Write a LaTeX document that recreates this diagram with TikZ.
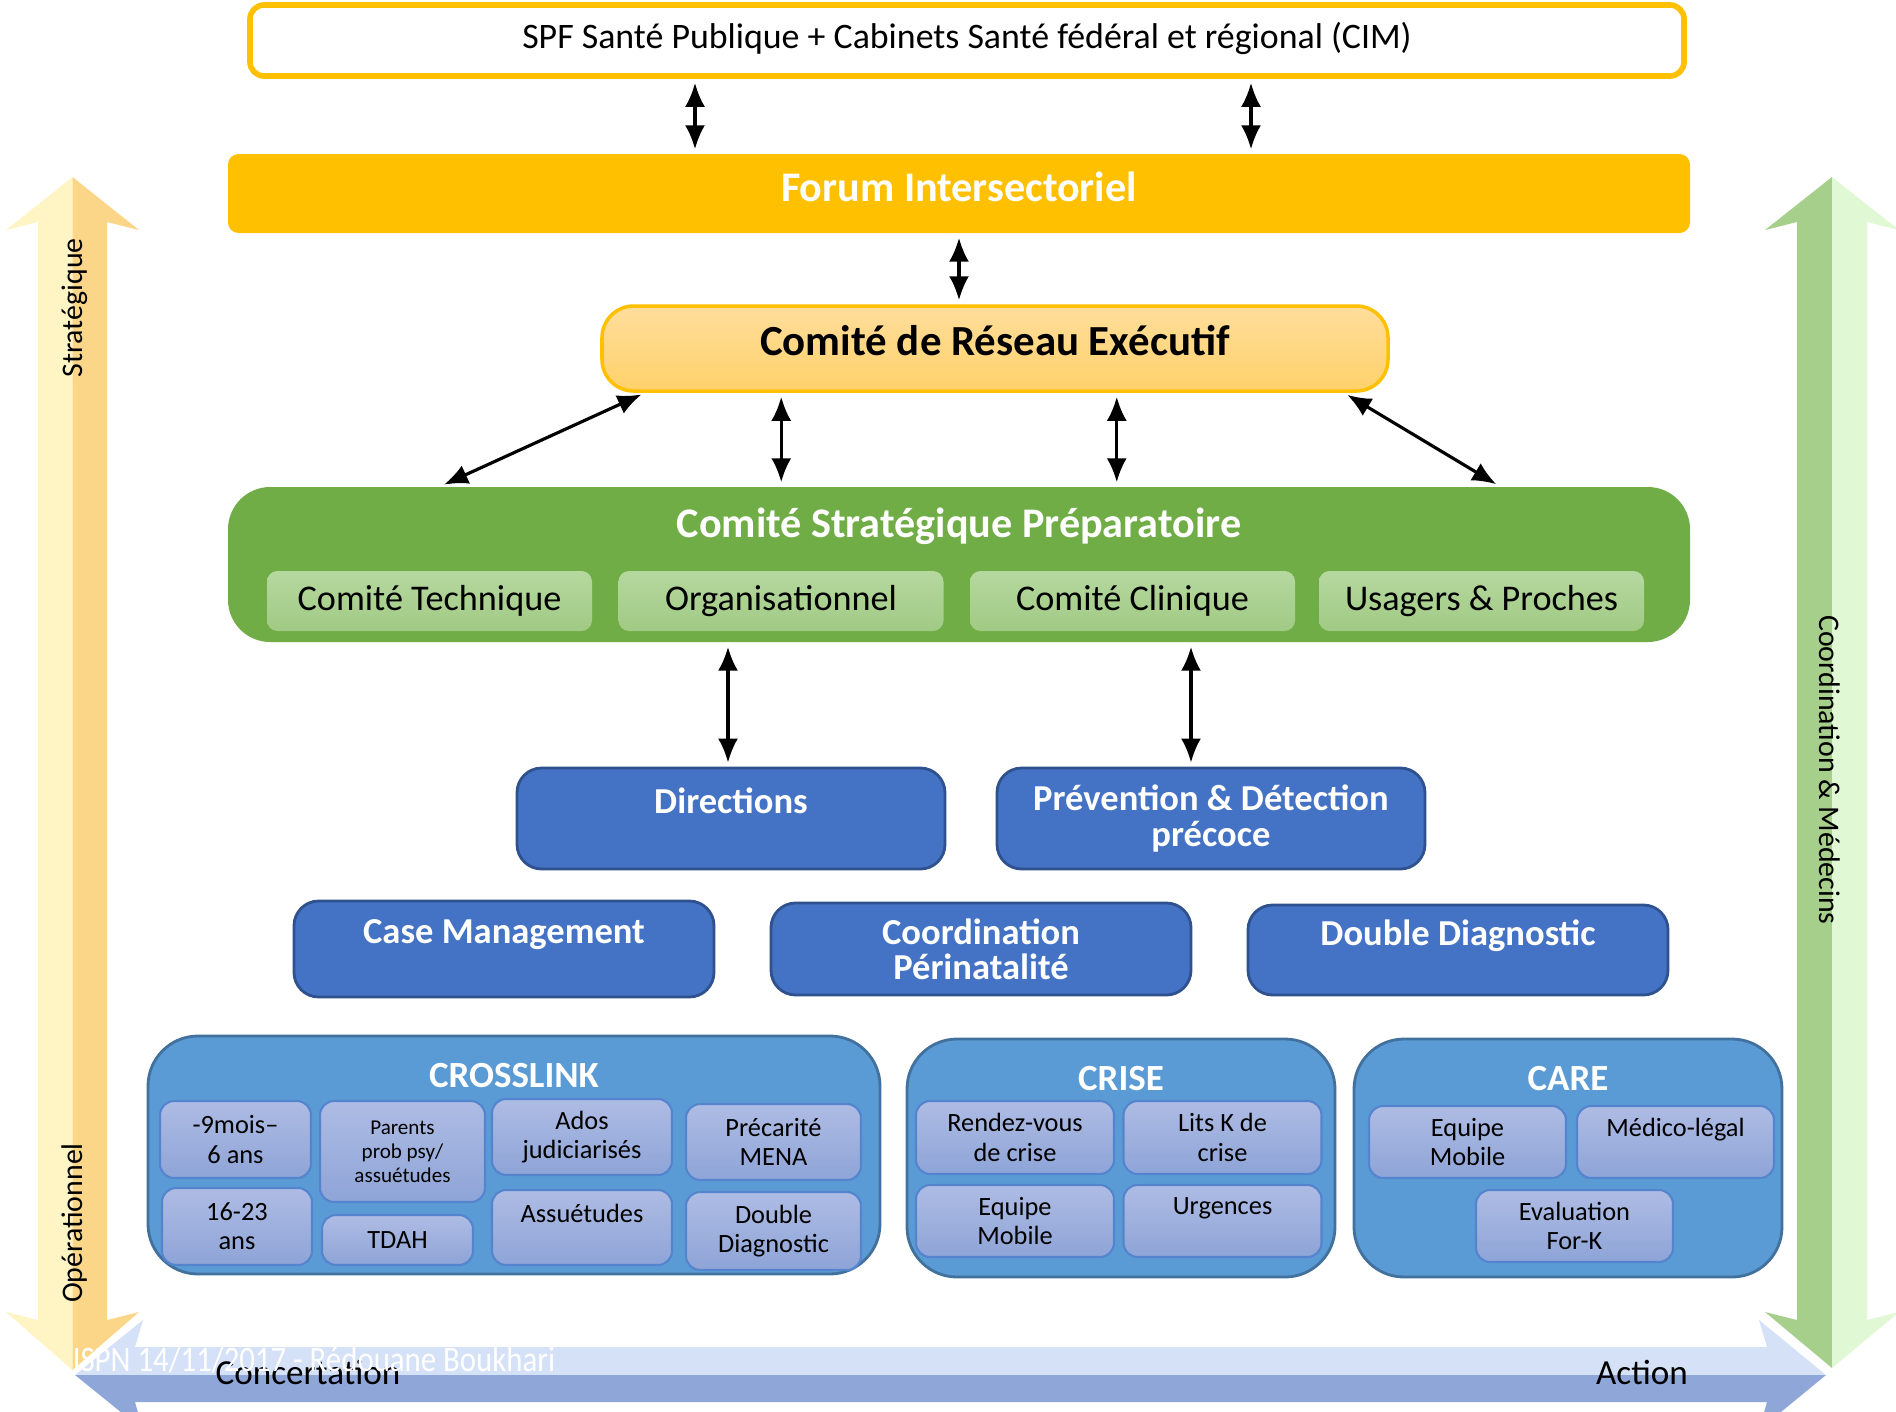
\documentclass[tikz,border=0pt]{standalone}
\usepackage{fontspec}
\setmainfont{Carlito}
\usetikzlibrary{arrows.meta}

\definecolor{gold}{HTML}{FFC000}
\definecolor{peachtop}{HTML}{FFDE9C}
\definecolor{peachbot}{HTML}{FFD16A}
\definecolor{cspgreen}{HTML}{70AD47}
\definecolor{subtop}{HTML}{B5D89F}
\definecolor{subbot}{HTML}{A1CA84}
\definecolor{blue1}{HTML}{4472C4}
\definecolor{blue2}{HTML}{2F528F}
\definecolor{grpblue}{HTML}{5B9BD5}
\definecolor{grpline}{HTML}{41719C}
\definecolor{itemtop}{HTML}{AEBCE4}
\definecolor{itembot}{HTML}{8EA4D7}
\definecolor{itemline}{HTML}{5584CF}
\definecolor{yelL}{HTML}{FFF4C4}
\definecolor{yelR}{HTML}{FCD688}
\definecolor{grnL}{HTML}{A7CF8C}
\definecolor{grnR}{HTML}{E0F9D4}
\definecolor{bluT}{HTML}{D5E1F7}
\definecolor{bluB}{HTML}{8FA6D8}

\tikzset{
  link/.style={{Latex[length=2.4mm,width=2mm]}-{Latex[length=2.4mm,width=2mm]}, line width=0.9pt, shorten <=0.4mm, shorten >=0.4mm},
  topbox/.style={draw=gold, line width=1.6pt, fill=white, rounded corners=4pt, font=\fontsize{10.2}{12}\selectfont},
  forumbox/.style={fill=gold, rounded corners=3pt, text=white, font=\bfseries\fontsize{12}{14}\selectfont},
  reseaubox/.style={top color=peachtop, bottom color=peachbot, draw=gold, line width=1pt, rounded corners=9pt, font=\bfseries\fontsize{12.2}{14}\selectfont},
  cspbox/.style={fill=cspgreen, rounded corners=12pt, text=white, font=\bfseries\fontsize{12}{14}\selectfont},
  subbox/.style={top color=subtop, bottom color=subbot, rounded corners=3pt, font=\fontsize{10.3}{12}\selectfont, minimum width=3.25cm, minimum height=0.6cm},
  bluebox/.style={fill=blue1, draw=blue2, line width=0.8pt, rounded corners=7pt, text=white, align=center, font=\bfseries\fontsize{10.4}{10}\selectfont},
  groupbox/.style={fill=grpblue, draw=grpline, line width=0.8pt, rounded corners=0.5cm, text=white, font=\bfseries\fontsize{10.5}{12}\selectfont, minimum height=2.38cm, text depth=1.6cm},
  itembox/.style={top color=itemtop, bottom color=itembot, draw=itemline, line width=0.6pt, rounded corners=4pt, align=center, font=\fontsize{7.5}{8.3}\selectfont},
  sidetext/.style={font=\fontsize{8.5}{10}\selectfont},
}

\begin{document}
\begin{tikzpicture}[x=1cm,y=-1cm]
\useasboundingbox (0,0) rectangle (18.96,14.11);
\fill[white] (0,0) rectangle (18.96,14.11);

% side arrows
\fill[yelL] (0.725,1.77) -- (0.06,2.30) -- (0.38,2.22) -- (0.38,13.20) -- (0.06,13.12) -- (0.725,13.70) -- cycle;
\fill[yelR] (0.725,1.77) -- (1.39,2.30) -- (1.07,2.22) -- (1.07,13.20) -- (1.39,13.12) -- (0.725,13.70) -- cycle;
\fill[grnL] (18.32,1.77) -- (17.65,2.30) -- (17.97,2.22) -- (17.97,13.20) -- (17.65,13.12) -- (18.32,13.68) -- cycle;
\fill[grnR] (18.32,1.77) -- (18.99,2.30) -- (18.67,2.22) -- (18.67,13.20) -- (18.99,13.12) -- (18.32,13.68) -- cycle;
\fill[bluT] (0.75,13.75) -- (1.43,13.20) -- (1.35,13.47) -- (17.67,13.47) -- (17.59,13.20) -- (18.26,13.75) -- cycle;
\fill[bluB] (0.75,13.75) -- (1.43,14.30) -- (1.35,14.02) -- (17.67,14.02) -- (17.59,14.30) -- (18.26,13.75) -- cycle;

\node[sidetext, rotate=90] (strat) at (0.75,3.08) {Stratégique};
\node[sidetext, rotate=90] (oper) at (0.75,12.23) {Opérationnel};
\node[sidetext, rotate=-90] (coordmed) at (18.30,7.70) {Coordination \& Médecins};
\node[font=\fontsize{10}{12}\selectfont] (concert) at (3.08,13.72) {Concertation};
\node[font=\fontsize{10}{12}\selectfont] (action) at (16.42,13.72) {Action};
\node[text=white, font=\fontsize{10.2}{12}\selectfont, xscale=0.86, transform shape] (mark) at (3.14,13.60) {ISPN 14/11/2017 - Rédouane Boukhari};

% top levels
\node[topbox, minimum width=14.34cm, minimum height=0.71cm, text depth=0.1cm] (spf) at (9.67,0.405) {SPF Santé Publique + Cabinets Santé fédéral et régional (CIM)};
\node[forumbox, minimum width=14.62cm, minimum height=0.79cm, text depth=0.14cm] (forum) at (9.59,1.935) {Forum Intersectoriel};
\node[reseaubox, minimum width=7.86cm, minimum height=0.85cm, text depth=0.17cm] (reseau) at (9.95,3.485) {Comité de Réseau Exécutif};
\node[cspbox, minimum width=14.62cm, minimum height=1.55cm, text depth=0.83cm] (csp) at (9.59,5.645) {Comité Stratégique Préparatoire};

\node[subbox] (technique) at (4.295,6.01) {Comité Technique};
\node[subbox] (organis) at (7.81,6.01) {Organisationnel};
\node[subbox] (clinique) at (11.325,6.01) {Comité Clinique};
\node[subbox] (usagers) at (14.815,6.01) {Usagers \& Proches};

\draw[link] ([xshift=-2.72cm]spf.south) -- ([xshift=-2.72cm]spf.south |- forum.north);
\draw[link] ([xshift=2.84cm]spf.south) -- ([xshift=2.84cm]spf.south |- forum.north);
\draw[link] (forum.south) -- (forum.south |- reseau.north);
\draw[link] ([xshift=0.45cm]reseau.south west) -- ([xshift=2.13cm]csp.north west);
\draw[link] ([xshift=1.81cm]reseau.south west) -- ([xshift=1.81cm]reseau.south west |- csp.north);
\draw[link] ([xshift=-2.73cm]reseau.south east) -- ([xshift=-2.73cm]reseau.south east |- csp.north);
\draw[link] ([xshift=-0.46cm]reseau.south east) -- ([xshift=-1.91cm]csp.north east);

% blue boxes
\node[bluebox, minimum width=4.28cm, minimum height=1.01cm, text depth=0.35cm] (directions) at (7.31,8.185) {Directions};
\node[bluebox, minimum width=4.28cm, minimum height=1.01cm] (prevention) at (12.11,8.185) {Prévention \& Détection\\précoce};
\node[bluebox, minimum width=4.20cm, minimum height=0.96cm, text depth=0.35cm] (casemgmt) at (5.04,9.49) {Case Management};
\node[bluebox, minimum width=4.20cm, minimum height=0.92cm] (perinat) at (9.81,9.49) {Coordination\\Périnatalité};
\node[bluebox, minimum width=4.20cm, minimum height=0.90cm, text depth=0.35cm] (doublediag) at (14.58,9.50) {Double Diagnostic};

\draw[link] ([xshift=-0.03cm]directions.north |- csp.south) -- ([xshift=-0.03cm]directions.north);
\draw[link] ([xshift=-0.2cm]prevention.north |- csp.south) -- ([xshift=-0.2cm]prevention.north);

% groups
\node[groupbox, minimum width=7.32cm] (crosslink) at (5.14,11.55) {CROSSLINK};
\node[groupbox, minimum width=4.28cm] (crise) at (11.21,11.58) {CRISE};
\node[groupbox, minimum width=4.28cm] (care) at (15.68,11.58) {CARE};

\node[itembox, minimum width=1.51cm, minimum height=0.77cm] (mois) at (2.355,11.395) {-9mois–\\6 ans};
\node[itembox, minimum width=1.65cm, minimum height=1.01cm, font=\fontsize{6}{6.8}\selectfont] (parents) at (4.025,11.515) {Parents\\prob psy/\\assuétudes};
\node[itembox, minimum width=1.80cm, minimum height=0.76cm] (ados) at (5.82,11.37) {Ados\\judiciarisés};
\node[itembox, minimum width=1.75cm, minimum height=0.76cm] (precarite) at (7.735,11.42) {Précarité\\MENA};
\node[itembox, minimum width=1.50cm, minimum height=0.77cm] (jeunes) at (2.37,12.265) {16-23\\ans};
\node[itembox, minimum width=1.51cm, minimum height=0.50cm] (tdah) at (3.975,12.40) {TDAH};
\node[itembox, minimum width=1.80cm, minimum height=0.75cm, text depth=0.29cm] (assuet) at (5.82,12.275) {Assuétudes};
\node[itembox, minimum width=1.75cm, minimum height=0.78cm] (ddiag) at (7.735,12.31) {Double\\Diagnostic};

\node[itembox, minimum width=1.98cm, minimum height=0.73cm] (rdv) at (10.15,11.375) {Rendez-vous\\de crise};
\node[itembox, minimum width=1.98cm, minimum height=0.73cm] (lits) at (12.225,11.375) {Lits K de\\crise};
\node[itembox, minimum width=1.98cm, minimum height=0.72cm] (mobcrise) at (10.15,12.21) {Equipe\\Mobile};
\node[itembox, minimum width=1.98cm, minimum height=0.72cm, text depth=0.29cm] (urgences) at (12.225,12.21) {Urgences};

\node[itembox, minimum width=1.97cm, minimum height=0.72cm] (mobcare) at (14.675,11.42) {Equipe\\Mobile};
\node[itembox, minimum width=1.97cm, minimum height=0.72cm, text depth=0.29cm] (medico) at (16.755,11.42) {Médico-légal};
\node[itembox, minimum width=1.97cm, minimum height=0.72cm] (evalk) at (15.745,12.26) {Evaluation\\For-K};

\end{tikzpicture}
\end{document}
